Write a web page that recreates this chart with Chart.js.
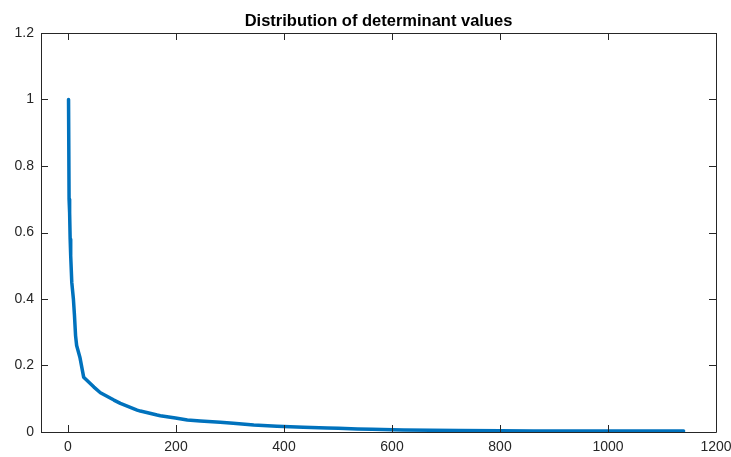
<!DOCTYPE html>
<html>
<head>
<meta charset="utf-8">
<script src="https://cdn.jsdelivr.net/npm/chart.js@4"></script>
<style>
  html, body { margin: 0; padding: 0; background: #ffffff; }
  #wrap { width: 731px; height: 457px; }
</style>
</head>
<body>
<div id="wrap"><canvas id="c" width="731" height="457"></canvas></div>
<script>
// Sorted determinant magnitudes against their rank
const rankIndex = [1, 2, 3, 4, 5, 7, 10, 12, 14, 16, 22, 29, 48, 60, 85, 97, 128, 134, 165, 171, 199, 221, 245, 282, 306, 344, 387, 436, 480, 501, 536, 563, 621, 724, 801, 862, 1140];
const detValue  = [1.0, 0.70, 0.66, 0.58, 0.53, 0.45, 0.40, 0.35, 0.29, 0.26, 0.225, 0.165, 0.135, 0.118, 0.096, 0.086, 0.066, 0.063, 0.051, 0.049, 0.042, 0.036, 0.033, 0.029, 0.026, 0.021, 0.017, 0.014, 0.012, 0.011, 0.009, 0.008, 0.006, 0.0045, 0.004, 0.003, 0.003];
const xTickValues = [0, 200, 400, 600, 800, 1000, 1200];
const yTickValues = [0, 0.2, 0.4, 0.6, 0.8, 1, 1.2];
const chartTitle = 'Distribution of determinant values';

const axisColor = '#262626';
const fontFamily = '"Liberation Sans", Arial, Helvetica, sans-serif';

const points = rankIndex.map((x, i) => ({ x: x, y: detValue[i] }));

// Box outline, inward ticks on all four sides, and the title
const boxPlugin = {
  id: 'boxAxes',
  afterDraw(chart) {
    const { ctx, chartArea: a, scales } = chart;
    const len = 7;
    ctx.save();
    ctx.strokeStyle = axisColor;
    ctx.lineWidth = 1;
    ctx.beginPath();
    ctx.rect(Math.round(a.left) + 0.5, Math.round(a.top) + 0.5,
             Math.round(a.right - a.left), Math.round(a.bottom - a.top));
    ctx.stroke();
    ctx.beginPath();
    xTickValues.forEach(v => {
      const px = Math.round(scales.x.getPixelForValue(v)) + 0.5;
      ctx.moveTo(px, a.bottom); ctx.lineTo(px, a.bottom - len);
      ctx.moveTo(px, a.top); ctx.lineTo(px, a.top + len);
    });
    yTickValues.forEach(v => {
      const py = Math.round(scales.y.getPixelForValue(v)) + 0.5;
      ctx.moveTo(a.left, py); ctx.lineTo(a.left + len, py);
      ctx.moveTo(a.right, py); ctx.lineTo(a.right - len, py);
    });
    ctx.stroke();
    ctx.fillStyle = '#000000';
    ctx.font = 'bold 16.5px ' + fontFamily;
    ctx.textAlign = 'center';
    ctx.textBaseline = 'middle';
    ctx.fillText(chartTitle, (a.left + a.right) / 2, 21);
    ctx.restore();
  }
};

new Chart(document.getElementById('c'), {
  type: 'scatter',
  data: {
    datasets: [{
      data: points,
      showLine: true,
      borderColor: '#0072BD',
      backgroundColor: '#0072BD',
      borderWidth: 3.5,
      borderJoinStyle: 'round',
      borderCapStyle: 'round',
      pointRadius: 0,
      tension: 0,
      clip: false
    }]
  },
  options: {
    responsive: false,
    animation: false,
    layout: { padding: { top: 33, right: 15, left: 0, bottom: 0 } },
    plugins: { legend: { display: false }, tooltip: { enabled: false }, title: { display: false } },
    scales: {
      x: {
        type: 'linear',
        min: -50,
        max: 1200,
        grid: { display: false, drawTicks: false },
        border: { display: false },
        afterBuildTicks(scale) { scale.ticks = xTickValues.map(v => ({ value: v })); },
        afterFit(scale) { scale.height = 25; scale.paddingLeft = 0; scale.paddingRight = 0; },
        ticks: {
          color: axisColor,
          font: { family: fontFamily, size: 14 },
          padding: 7,
          maxRotation: 0,
          autoSkip: false,
          callback: v => String(v)
        }
      },
      y: {
        type: 'linear',
        min: 0,
        max: 1.2,
        grid: { display: false, drawTicks: false },
        border: { display: false },
        afterBuildTicks(scale) { scale.ticks = yTickValues.map(v => ({ value: v })); },
        afterFit(scale) { scale.width = 41; scale.paddingTop = 0; scale.paddingBottom = 0; },
        ticks: {
          color: axisColor,
          font: { family: fontFamily, size: 14 },
          padding: 7,
          autoSkip: false,
          callback: v => String(Number(v.toFixed(1)))
        }
      }
    }
  },
  plugins: [boxPlugin]
});
</script>
</body>
</html>
